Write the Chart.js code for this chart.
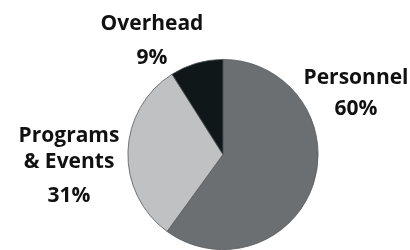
<!DOCTYPE html>
<html>
<head>
<meta charset="utf-8">
<script src="https://cdn.jsdelivr.net/npm/chart.js@4/dist/chart.umd.min.js"></script>
<style>
  html, body { margin: 0; padding: 0; background: #fff; }
  #wrap { width: 410px; height: 250px; position: relative; }
</style>
</head>
<body>
<div id="wrap"><canvas id="grafico"></canvas></div>
<script>
// dados do grafico
var categorias = ['Personnel', 'Programs & Events', 'Overhead'];
var valores = [60, 31, 9];
var cores = ['#6c6f72', '#bfc1c3', '#0f1719'];

// linhas de cada rotulo (nome quebrado em linhas)
var linhasRotulo = [['Personnel'], ['Programs', '& Events'], ['Overhead']];

// onde cada rotulo fica, relativo ao centro da pizza (dx, baseline das linhas)
var posRotulo = [
    { dx: 133, linhas: [-71], pct: -40 },
    { dx: -154, linhas: [-13, 13], pct: 47 },
    { dx: -71, linhas: [-125], pct: -91 }
];

var fonte = 'bold 21px "Open Sans", "DejaVu Sans", sans-serif';

const rotulos = {
    id: 'rotulos',
    afterDraw(chart) {
        var ctx = chart.ctx;
        var arco = chart.getDatasetMeta(0).data[0];
        var cx = arco.x;
        var cy = arco.y;
        var total = valores.reduce(function (a, b) { return a + b; }, 0);
        ctx.save();
        ctx.font = fonte;
        ctx.fillStyle = '#111';
        ctx.textAlign = 'center';
        ctx.textBaseline = 'alphabetic';
        for (var i = 0; i < categorias.length; i++) {
            var p = posRotulo[i];
            for (var j = 0; j < linhasRotulo[i].length; j++) {
                ctx.fillText(linhasRotulo[i][j], cx + p.dx, cy + p.linhas[j]);
            }
            var pct = Math.round(valores[i] / total * 100) + '%';
            ctx.fillText(pct, cx + p.dx, cy + p.pct);
        }
        ctx.restore();
    }
};

const ctx1 = document.getElementById('grafico');

new Chart(ctx1, {
    type: 'pie',
    data: {
        labels: categorias,
        datasets: [{
            data: valores,
            backgroundColor: cores,
            borderColor: '#55585b',
            borderWidth: 0.8
        }]
    },
    options: {
        responsive: true,
        maintainAspectRatio: false,
        animation: false,
        layout: { padding: { top: 59, bottom: 0, left: 36, right: 0 } },
        plugins: {
            legend: { display: false },
            tooltip: { enabled: false }
        }
    },
    plugins: [rotulos]
});
</script>
</body>
</html>
